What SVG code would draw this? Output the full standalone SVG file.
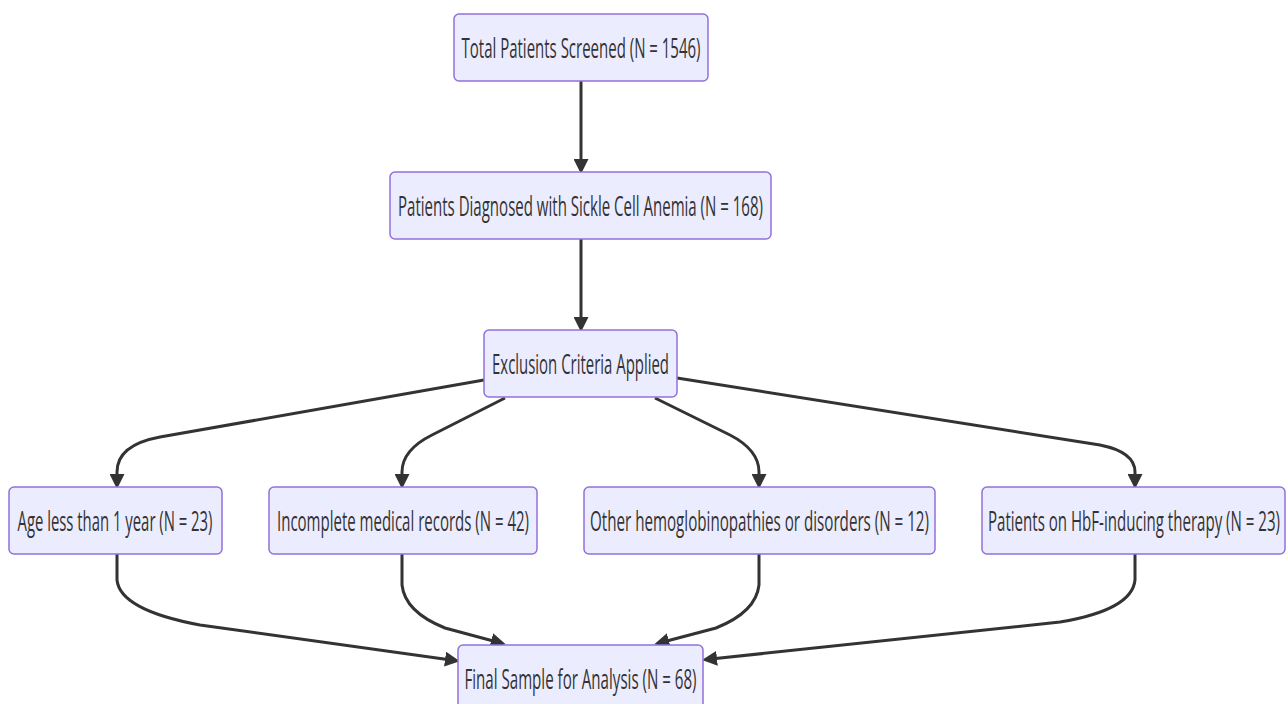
<svg xmlns="http://www.w3.org/2000/svg" width="1287" height="704" viewBox="0 0 1287 704">
<style>
.node rect{fill:#ECECFF;stroke:#9370DB;stroke-width:1.5}
.node text{font-family:"Open Sans","Liberation Sans",sans-serif;font-size:28px;fill:#333;text-anchor:middle}
.edge{fill:none;stroke:#333;stroke-width:3}
</style>
<defs>
<marker id="arr" markerUnits="userSpaceOnUse" markerWidth="15" markerHeight="15" refX="6" refY="7.5" orient="auto" viewBox="0 0 15 15">
<path d="M0,0 L15,7.5 L0,15 z" fill="#333"/>
</marker>
</defs>
<g id="connectors">
<path class="edge" d="M581,81 L581,165" marker-end="url(#arr)"/>
<path class="edge" d="M581,239 L581,323" marker-end="url(#arr)"/>
<path class="edge" d="M484,380 L160,437 Q117,445 117,472 L117,480" marker-end="url(#arr)"/>
<path class="edge" d="M505,398 L432,435 Q402,450 402,472 L402,480" marker-end="url(#arr)"/>
<path class="edge" d="M655,398 L730,435 Q759,450 759,472 L759,480" marker-end="url(#arr)"/>
<path class="edge" d="M677,378 L1100,445 Q1135,452 1135,472 L1135,480" marker-end="url(#arr)"/>
<path class="edge" d="M117,554 L117,580 Q120,610 200,625 L451,660" marker-end="url(#arr)"/>
<path class="edge" d="M402,554 L402,585 Q405,612 445,628 L497,642" marker-end="url(#arr)"/>
<path class="edge" d="M759,554 L759,585 Q756,612 716,628 L663,642" marker-end="url(#arr)"/>
<path class="edge" d="M1135,554 L1135,580 Q1132,610 1060,622 L711,659" marker-end="url(#arr)"/>
</g>
<g id="n1" class="node"><rect x="454" y="14" width="254" height="67" rx="5"/><text transform="translate(581,58) scale(0.5,1)" textLength="478" lengthAdjust="spacingAndGlyphs">Total Patients Screened (N = 1546)</text></g>
<g id="n2" class="node"><rect x="390" y="172" width="381" height="67" rx="5"/><text transform="translate(580.5,216) scale(0.5,1)" textLength="730" lengthAdjust="spacingAndGlyphs">Patients Diagnosed with Sickle Cell Anemia (N = 168)</text></g>
<g id="n3" class="node"><rect x="484" y="330" width="193" height="67" rx="5"/><text transform="translate(580.5,374) scale(0.5,1)" textLength="354" lengthAdjust="spacingAndGlyphs">Exclusion Criteria Applied</text></g>
<g id="n4" class="node"><rect x="9" y="487" width="213" height="67" rx="5"/><text transform="translate(115,531) scale(0.5,1)" textLength="390" lengthAdjust="spacingAndGlyphs">Age less than 1 year (N = 23)</text></g>
<g id="n5" class="node"><rect x="269" y="487" width="268" height="67" rx="5"/><text transform="translate(403,531) scale(0.5,1)" textLength="504" lengthAdjust="spacingAndGlyphs">Incomplete medical records (N = 42)</text></g>
<g id="n6" class="node"><rect x="584" y="487" width="351" height="67" rx="5"/><text transform="translate(759.5,531) scale(0.5,1)" textLength="678" lengthAdjust="spacingAndGlyphs">Other hemoglobinopathies or disorders (N = 12)</text></g>
<g id="n7" class="node"><rect x="982" y="487" width="303" height="67" rx="5"/><text transform="translate(1134,531) scale(0.5,1)" textLength="584" lengthAdjust="spacingAndGlyphs">Patients on HbF-inducing therapy (N = 23)</text></g>
<g id="n8" class="node"><rect x="458" y="645" width="245" height="67" rx="5"/><text transform="translate(580.5,689) scale(0.5,1)" textLength="464" lengthAdjust="spacingAndGlyphs">Final Sample for Analysis (N = 68)</text></g>
</svg>
